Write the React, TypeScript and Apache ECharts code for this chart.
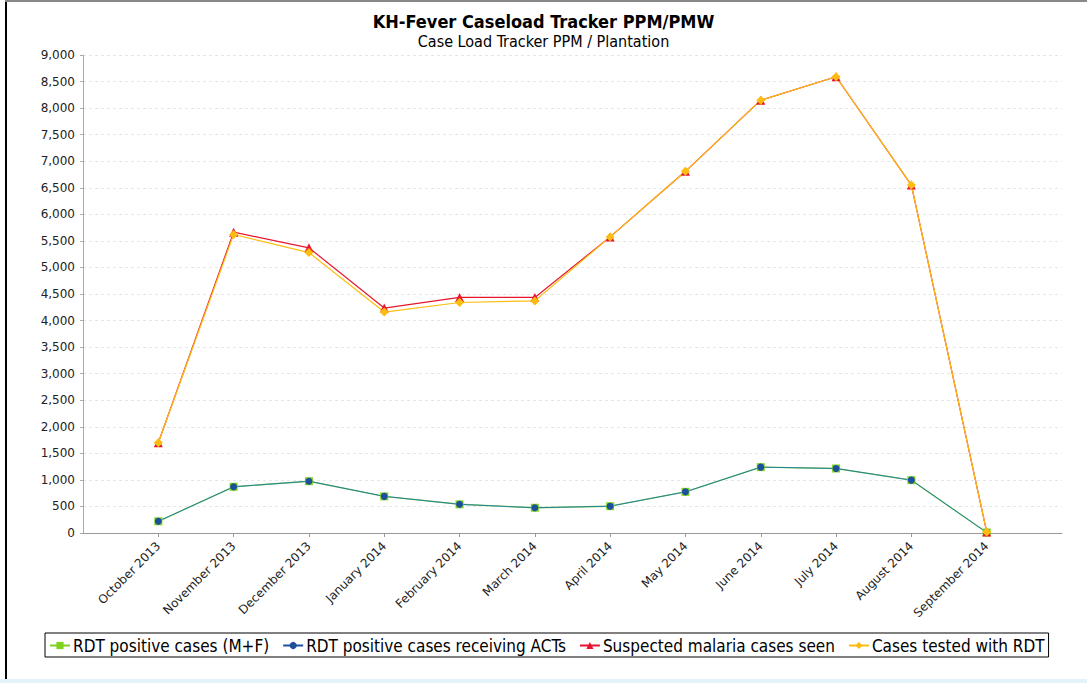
import React, { useEffect, useRef } from "react";
import * as echarts from "echarts";

const months = [
  "October 2013", "November 2013", "December 2013", "January 2014", "February 2014", "March 2014",
  "April 2014", "May 2014", "June 2014", "July 2014", "August 2014", "September 2014",
];
const rdtPositive = [220, 870, 975, 690, 540, 475, 505, 775, 1240, 1215, 995, 10];
const rdtPositiveACT = [220, 870, 975, 690, 540, 475, 505, 775, 1240, 1215, 995, 10];
const suspected = [1700, 5665, 5370, 4235, 4435, 4435, 5575, 6810, 8150, 8590, 6550, 20];
const testedRDT = [1700, 5620, 5280, 4160, 4340, 4370, 5575, 6810, 8150, 8590, 6550, 20];
const yTicks = { min: 0, max: 9000, interval: 500 };

const pad = (arr: number[]) => [null, ...arr, null];

export default function App() {
  const ref = useRef<HTMLDivElement>(null);
  useEffect(() => {
    if (!ref.current) return;
    const chart = echarts.init(ref.current, null, { renderer: "svg" });
    const font = "DejaVu Sans";
    const narrow = "'DejaVu Sans Condensed', 'DejaVu Sans'";
    const cats = ["", ...months, ""];
    const show = (i: number) => i > 0 && i < cats.length - 1;
    const mk = (name: string, data: number[], color: string, lineColor: string, width: number, symbol: string, size: number) => ({
      name,
      type: "line",
      data: pad(data),
      symbol,
      symbolSize: size,
      lineStyle: { color: lineColor, width },
      itemStyle: { color },
      emphasis: { disabled: true },
    });
    chart.setOption({
      animation: false,
      backgroundColor: "#fff",
      title: {
        text: "KH-Fever Caseload Tracker PPM/PMW",
        subtext: "Case Load Tracker PPM / Plantation",
        left: "center",
        top: 7,
        itemGap: 3,
        textStyle: { fontFamily: narrow, fontSize: 18, fontWeight: "bold", color: "#000" },
        subtextStyle: { fontFamily: narrow, fontSize: 16, color: "#000" },
      },
      grid: { left: 83, right: 25, top: 55, bottom: 150 },
      xAxis: {
        type: "category",
        data: cats,
        boundaryGap: false,
        axisLine: { lineStyle: { color: "#999" } },
        axisTick: { show: true, interval: (i: number) => show(i), length: 4, lineStyle: { color: "#999" } },
        axisLabel: {
          interval: (i: number) => show(i),
          rotate: 45,
          fontFamily: font,
          fontSize: 12,
          color: "#222",
          margin: 11,
        },
        splitLine: { show: false },
      },
      yAxis: {
        type: "value",
        min: yTicks.min,
        max: yTicks.max,
        interval: yTicks.interval,
        axisLine: { show: true, lineStyle: { color: "#aaa" } },
        axisTick: { show: true, length: 3, lineStyle: { color: "#aaa" } },
        axisLabel: {
          fontFamily: font,
          fontSize: 12,
          color: "#222",
          margin: 8,
          formatter: (v: number) => v.toLocaleString("en-US"),
        },
        splitLine: { show: true, lineStyle: { color: "#e6e6e6", type: [3, 3] } },
      },
      legend: {
        left: 45,
        top: 633,
        width: 1030,
        borderColor: "#000",
        borderWidth: 1,
        padding: [4, 4, 3, 4],
        itemGap: 13,
        itemWidth: 20,
        itemHeight: 9,
        textStyle: { fontFamily: narrow, fontSize: 17, color: "#000", padding: [0, 0, 0, -2] },
        data: [
          { name: "RDT positive cases (M+F)", itemStyle: { color: "#7fd320" }, lineStyle: { color: "#7fd320" } },
          { name: "RDT positive cases receiving ACTs", itemStyle: { color: "#1c4f9c" }, lineStyle: { color: "#1c4f9c" } },
          { name: "Suspected malaria cases seen", itemStyle: { color: "#e5162e" }, lineStyle: { color: "#e5162e" } },
          { name: "Cases tested with RDT", itemStyle: { color: "#fdbd10" }, lineStyle: { color: "#fdbd10" } },
        ],
      },
      graphic: [
        { type: "rect", shape: { x: 5, y: 0, width: 2, height: 680 }, style: { fill: "#000" } },
        { type: "rect", shape: { x: 5, y: 0, width: 1082, height: 2 }, style: { fill: "#888" } },
        { type: "rect", shape: { x: 0, y: 679, width: 1087, height: 4 }, style: { fill: "#e4f3fa" } },
      ],
      series: [
        mk("RDT positive cases (M+F)", rdtPositive, "#7fd320", "#8ad45a", 1.4, "rect", 8),
        mk("RDT positive cases receiving ACTs", rdtPositiveACT, "#1c4f9c", "#23809a", 1, "circle", 7),
        mk("Suspected malaria cases seen", suspected, "#e5162e", "#e5162e", 1.2, "triangle", 9),
        mk("Cases tested with RDT", testedRDT, "#fdbd10", "#fdbd10", 1.2, "diamond", 9),
      ],
    });
    return () => chart.dispose();
  }, []);
  return <div ref={ref} style={{ position: "absolute", left: 0, top: 0, width: 1087, height: 683 }} />;
}
